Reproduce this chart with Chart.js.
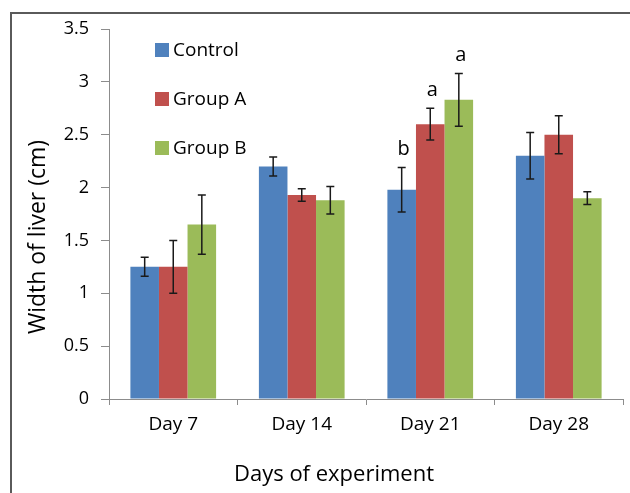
<!DOCTYPE html>
<html>
<head>
<meta charset="utf-8">
<script src="https://cdn.jsdelivr.net/npm/chart.js@4.4.1/dist/chart.umd.min.js"></script>
<style>
  html, body { margin: 0; padding: 0; background: #fff; }
  #wrap { width: 630px; height: 493px; position: relative; }
</style>
</head>
<body>
<div id="wrap"><canvas id="chart" width="630" height="493"></canvas></div>
<script>
// Liver width by day of experiment, mean ± error, three groups
const categories = ['Day 7', 'Day 14', 'Day 21', 'Day 28'];
const seriesNames = ['Control', 'Group A', 'Group B'];
const controlValues = [1.25, 2.20, 1.98, 2.30];
const groupAValues  = [1.25, 1.93, 2.60, 2.50];
const groupBValues  = [1.65, 1.88, 2.83, 1.90];
const controlErrors = [0.09, 0.09, 0.21, 0.22];
const groupAErrors  = [0.25, 0.06, 0.15, 0.18];
const groupBErrors  = [0.28, 0.13, 0.25, 0.06];
const controlLetters = ['', '', 'b', ''];
const groupALetters  = ['', '', 'a', ''];
const groupBLetters  = ['', '', 'a', ''];
const yTickMax = 3.5;
const yTickStep = 0.5;
const xAxisTitle = 'Days of experiment';
const yAxisTitle = 'Width of liver (cm)';

const FONT = '"Open Sans", "DejaVu Sans", sans-serif';
const colors = ['#4F81BD', '#C0504D', '#9BBB59'];
const axisGrey = '#8c8c8c';

const valueSets = [controlValues, groupAValues, groupBValues];
const errorSets = [controlErrors, groupAErrors, groupBErrors];
const letterSets = [controlLetters, groupALetters, groupBLetters];

const datasets = seriesNames.map((name, i) => ({
  label: name,
  data: valueSets[i],
  errors: errorSets[i],
  letters: letterSets[i],
  backgroundColor: colors[i],
  borderWidth: 0,
  categoryPercentage: 0.667,
  barPercentage: 1.0
}));

// white page with the dark frame along the top and left
const framePlugin = {
  id: 'frame',
  beforeDraw(chart) {
    const ctx = chart.ctx;
    ctx.save();
    ctx.fillStyle = '#ffffff';
    ctx.fillRect(0, 0, chart.width, chart.height);
    ctx.strokeStyle = '#5a5a5a';
    ctx.lineWidth = 2;
    ctx.beginPath();
    ctx.moveTo(11, chart.height);
    ctx.lineTo(11, 13);
    ctx.lineTo(chart.width, 13);
    ctx.stroke();
    ctx.restore();
  }
};

// vertical error bars with caps, plus significance letters above them
const errorBarPlugin = {
  id: 'errorBars',
  afterDatasetsDraw(chart) {
    const ctx = chart.ctx;
    const yScale = chart.scales.y;
    ctx.save();
    ctx.strokeStyle = '#1a1a1a';
    ctx.lineWidth = 1.5;
    chart.data.datasets.forEach((ds, i) => {
      const meta = chart.getDatasetMeta(i);
      meta.data.forEach((bar, j) => {
        const v = ds.data[j];
        const e = ds.errors[j];
        const yTop = yScale.getPixelForValue(v + e);
        const yBot = yScale.getPixelForValue(v - e);
        const x = bar.x;
        ctx.beginPath();
        ctx.moveTo(x, yTop); ctx.lineTo(x, yBot);
        ctx.moveTo(x - 4, yTop); ctx.lineTo(x + 4, yTop);
        ctx.moveTo(x - 4, yBot); ctx.lineTo(x + 4, yBot);
        ctx.stroke();
        const letter = ds.letters[j];
        if (letter) {
          ctx.fillStyle = '#000';
          ctx.font = '20px ' + FONT;
          ctx.textAlign = 'center';
          ctx.textBaseline = 'middle';
          ctx.fillText(letter, x + 2, yTop - 18);
        }
      });
    });
    ctx.restore();
  }
};

// legend stacked inside the plot area, upper left
const legendPlugin = {
  id: 'stackedLegend',
  afterDraw(chart) {
    const ctx = chart.ctx;
    const area = chart.chartArea;
    ctx.save();
    ctx.font = '19px ' + FONT;
    ctx.textBaseline = 'middle';
    ctx.textAlign = 'left';
    chart.data.datasets.forEach((ds, i) => {
      const cy = area.top + 21 + i * 49;
      const bx = area.left + 46;
      ctx.fillStyle = ds.backgroundColor;
      ctx.fillRect(bx, cy - 7, 14, 14);
      ctx.fillStyle = '#000';
      ctx.fillText(ds.label, bx + 18, cy + 1);
    });
    ctx.restore();
  }
};

// axis titles
const titlePlugin = {
  id: 'axisTitles',
  afterDraw(chart) {
    const ctx = chart.ctx;
    ctx.save();
    ctx.fillStyle = '#000';
    ctx.textAlign = 'center';
    ctx.textBaseline = 'middle';
    ctx.font = '22px ' + FONT;
    ctx.fillText(xAxisTitle, 334, 475);
    ctx.font = '23px ' + FONT;
    ctx.translate(38, 237);
    ctx.rotate(-Math.PI / 2);
    ctx.fillText(yAxisTitle, 0, 0);
    ctx.restore();
  }
};

new Chart(document.getElementById('chart'), {
  type: 'bar',
  data: { labels: categories, datasets },
  options: {
    responsive: false,
    animation: false,
    devicePixelRatio: 1,
    layout: { padding: { left: 10, top: 29, right: 7, bottom: 0 } },
    plugins: {
      legend: { display: false },
      tooltip: { enabled: false },
      title: { display: false }
    },
    scales: {
      x: {
        grid: {
          offset: true,
          drawOnChartArea: false,
          drawTicks: true,
          tickLength: 6,
          color: axisGrey
        },
        border: { display: true, color: axisGrey, width: 1 },
        ticks: {
          color: '#000',
          font: { family: FONT, size: 19 },
          padding: 8
        },
        afterFit(scale) { scale.height = 94; }
      },
      y: {
        min: 0,
        max: yTickMax,
        grid: {
          drawOnChartArea: false,
          drawTicks: true,
          tickLength: 8,
          color: axisGrey
        },
        border: { display: true, color: axisGrey, width: 1 },
        ticks: {
          stepSize: yTickStep,
          color: '#000',
          font: { family: FONT, size: 18 },
          padding: 12,
          callback: (value) => String(Number(value))
        },
        afterFit(scale) { scale.width = 99; }
      }
    }
  },
  plugins: [framePlugin, errorBarPlugin, legendPlugin, titlePlugin]
});
</script>
</body>
</html>
